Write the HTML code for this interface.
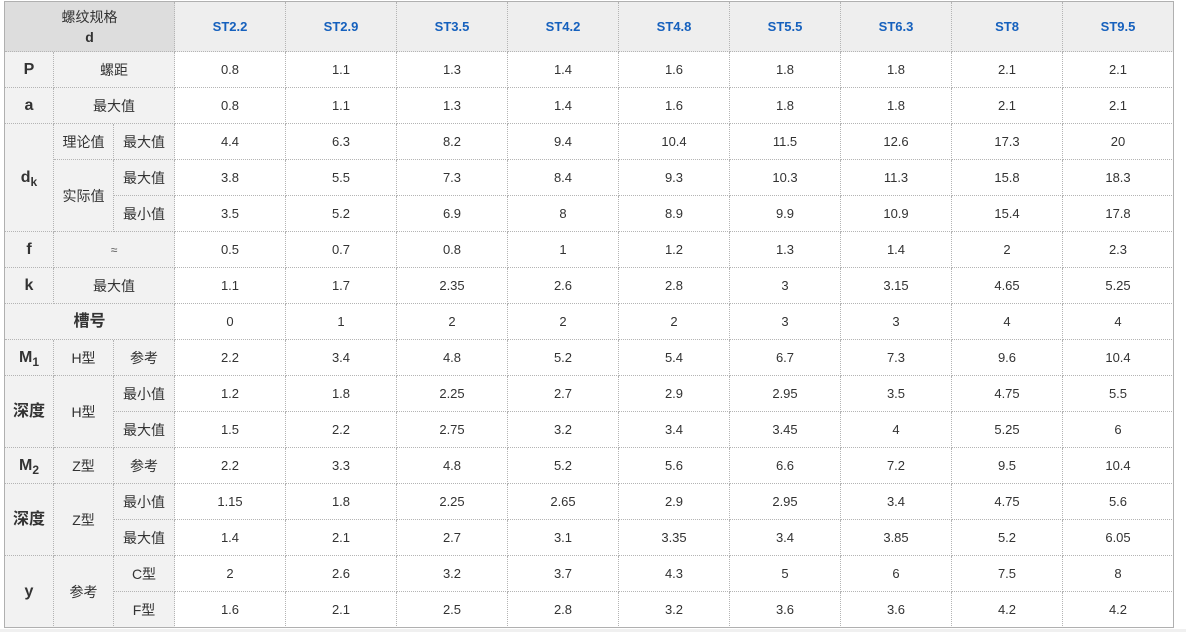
<!DOCTYPE html>
<html><head><meta charset="utf-8">
<style>
html,body{margin:0;padding:0;background:#fff;width:1186px;height:632px;overflow:hidden;}
.wrap{position:absolute;left:4px;top:1px;width:1168px;height:625px;border:1px solid #b0b0b0;overflow:hidden;}
table{border-collapse:separate;border-spacing:0;table-layout:fixed;width:1169px;}
td{padding:0;border-right:1px dotted #b4b4b4;border-bottom:1px dotted #b4b4b4;text-align:center;vertical-align:middle;
 font-family:"Liberation Sans","WenQuanYi Zen Hei","Noto Sans CJK SC",sans-serif;font-size:13px;color:#333;background:#fff;line-height:16px;}
tr{height:36px;}
tr.h{height:50px;}
td.hd{background:#ddd;font-size:14px;line-height:20px;color:#333;}
td.st{background:#eee;color:#1560bd;font-weight:bold;font-size:13px;}
td.l{background:#f2f2f2;font-size:14px;}
td.b{background:#f2f2f2;font-weight:bold;font-size:16px;color:#333;}
sub{font-size:12px;vertical-align:-4px;line-height:0;}
.strip{position:absolute;left:0;top:629px;width:1186px;height:3px;background:#f0f0f0;}
</style></head><body>
<div class="wrap">
<table>
<colgroup><col style="width:49px"><col style="width:60px"><col style="width:61px">
<col style="width:111px"><col style="width:111px"><col style="width:111px"><col style="width:111px"><col style="width:111px"><col style="width:111px"><col style="width:111px"><col style="width:111px"><col style="width:111px"></colgroup>
<tr class="h"><td class="hd" colspan="3">螺纹规格<br><b>d</b></td><td class="st">ST2.2</td><td class="st">ST2.9</td><td class="st">ST3.5</td><td class="st">ST4.2</td><td class="st">ST4.8</td><td class="st">ST5.5</td><td class="st">ST6.3</td><td class="st">ST8</td><td class="st">ST9.5</td></tr>
<tr><td class="b">P</td><td class="l" colspan="2">螺距</td><td>0.8</td><td>1.1</td><td>1.3</td><td>1.4</td><td>1.6</td><td>1.8</td><td>1.8</td><td>2.1</td><td>2.1</td></tr>
<tr><td class="b">a</td><td class="l" colspan="2">最大值</td><td>0.8</td><td>1.1</td><td>1.3</td><td>1.4</td><td>1.6</td><td>1.8</td><td>1.8</td><td>2.1</td><td>2.1</td></tr>
<tr><td class="b" rowspan="3">d<sub>k</sub></td><td class="l">理论值</td><td class="l">最大值</td><td>4.4</td><td>6.3</td><td>8.2</td><td>9.4</td><td>10.4</td><td>11.5</td><td>12.6</td><td>17.3</td><td>20</td></tr>
<tr><td class="l" rowspan="2">实际值</td><td class="l">最大值</td><td>3.8</td><td>5.5</td><td>7.3</td><td>8.4</td><td>9.3</td><td>10.3</td><td>11.3</td><td>15.8</td><td>18.3</td></tr>
<tr><td class="l">最小值</td><td>3.5</td><td>5.2</td><td>6.9</td><td>8</td><td>8.9</td><td>9.9</td><td>10.9</td><td>15.4</td><td>17.8</td></tr>
<tr><td class="b">f</td><td class="l" colspan="2" style="font-size:12px;color:#555">≈</td><td>0.5</td><td>0.7</td><td>0.8</td><td>1</td><td>1.2</td><td>1.3</td><td>1.4</td><td>2</td><td>2.3</td></tr>
<tr><td class="b">k</td><td class="l" colspan="2">最大值</td><td>1.1</td><td>1.7</td><td>2.35</td><td>2.6</td><td>2.8</td><td>3</td><td>3.15</td><td>4.65</td><td>5.25</td></tr>
<tr><td class="b" colspan="3">槽号</td><td>0</td><td>1</td><td>2</td><td>2</td><td>2</td><td>3</td><td>3</td><td>4</td><td>4</td></tr>
<tr><td class="b">M<sub>1</sub></td><td class="l">H型</td><td class="l">参考</td><td>2.2</td><td>3.4</td><td>4.8</td><td>5.2</td><td>5.4</td><td>6.7</td><td>7.3</td><td>9.6</td><td>10.4</td></tr>
<tr><td class="b" rowspan="2">深度</td><td class="l" rowspan="2">H型</td><td class="l">最小值</td><td>1.2</td><td>1.8</td><td>2.25</td><td>2.7</td><td>2.9</td><td>2.95</td><td>3.5</td><td>4.75</td><td>5.5</td></tr>
<tr><td class="l">最大值</td><td>1.5</td><td>2.2</td><td>2.75</td><td>3.2</td><td>3.4</td><td>3.45</td><td>4</td><td>5.25</td><td>6</td></tr>
<tr><td class="b">M<sub>2</sub></td><td class="l">Z型</td><td class="l">参考</td><td>2.2</td><td>3.3</td><td>4.8</td><td>5.2</td><td>5.6</td><td>6.6</td><td>7.2</td><td>9.5</td><td>10.4</td></tr>
<tr><td class="b" rowspan="2">深度</td><td class="l" rowspan="2">Z型</td><td class="l">最小值</td><td>1.15</td><td>1.8</td><td>2.25</td><td>2.65</td><td>2.9</td><td>2.95</td><td>3.4</td><td>4.75</td><td>5.6</td></tr>
<tr><td class="l">最大值</td><td>1.4</td><td>2.1</td><td>2.7</td><td>3.1</td><td>3.35</td><td>3.4</td><td>3.85</td><td>5.2</td><td>6.05</td></tr>
<tr><td class="b" rowspan="2">y</td><td class="l" rowspan="2">参考</td><td class="l">C型</td><td>2</td><td>2.6</td><td>3.2</td><td>3.7</td><td>4.3</td><td>5</td><td>6</td><td>7.5</td><td>8</td></tr>
<tr><td class="l">F型</td><td>1.6</td><td>2.1</td><td>2.5</td><td>2.8</td><td>3.2</td><td>3.6</td><td>3.6</td><td>4.2</td><td>4.2</td></tr>
</table>
</div>
<div class="strip"></div>
</body></html>
